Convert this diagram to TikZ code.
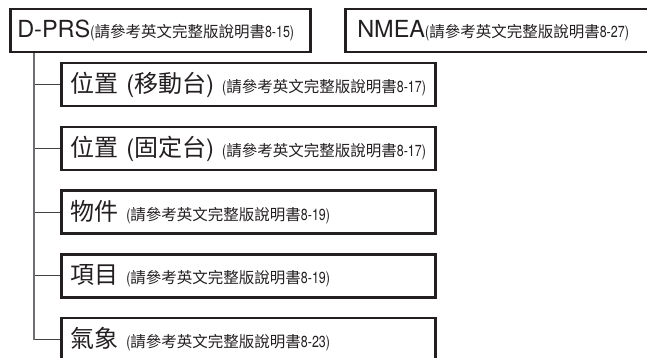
\documentclass[tikz,border=0pt]{standalone}
\usepackage{fontspec}
\setmainfont{TeX Gyre Heros}
\newfontfamily\cjk{Noto Sans CJK TC}
\newfontfamily\narrowsf[FakeStretch=0.78]{TeX Gyre Heros}
\usetikzlibrary{positioning}
\definecolor{manink}{HTML}{231F20}
\definecolor{mangrey}{HTML}{6D6E71}
% small page reference after each menu entry
\newcommand{\refnote}[1]{{\fontsize{16}{16}\selectfont\narrowsf(\fontsize{15.5}{16}\selectfont\cjk 請參考英文完整版說明書\fontsize{16}{16}\selectfont\narrowsf #1)}}
\tikzset{
  menubox/.style={draw=manink, line width=2.5pt, text=manink, anchor=north west, minimum height=43pt, inner ysep=0pt, align=left},
  topbox/.style={menubox, inner xsep=7pt, text width=286pt, font=\fontsize{23.5}{24}\selectfont},
  subbox/.style={menubox, inner xsep=9pt, text width=356pt, font=\fontsize{24}{24}\selectfont},
  trunk/.style={draw=mangrey, line width=1.7pt},
  twig/.style={draw=manink!85, line width=1.1pt},
}

\begin{document}
\begin{tikzpicture}[x=1pt, y=-1pt]
  \useasboundingbox (0,0) rectangle (647,358);
  \node[topbox] (dprs) at (9,8) {\mbox{D-PRS\refnote{8-15}}};
  \node[topbox, text width=340pt, inner xsep=12pt] (nmea) at (344,8) {\mbox{NMEA\refnote{8-27}}};
  \coordinate[right=25pt of dprs.south west] (stem);
  \foreach \i/\nm/\pg in {1/{{\cjk 位置} ({\cjk 移動台})}/8-17, 2/{{\cjk 位置} ({\cjk 固定台})}/8-17, 3/{{\cjk 物件}}/8-19, 4/{{\cjk 項目}}/8-19, 5/{{\cjk 氣象}}/8-23} {
    \node[subbox] (sub\i) at (60,{62+(\i-1)*63.7}) {\mbox{\nm\ \refnote{\pg}}};
    \draw[twig] (stem |- sub\i.west) -- (sub\i.west);
  }
  \draw[trunk] (stem) -- (stem |- sub5.west);
\end{tikzpicture}
\end{document}
